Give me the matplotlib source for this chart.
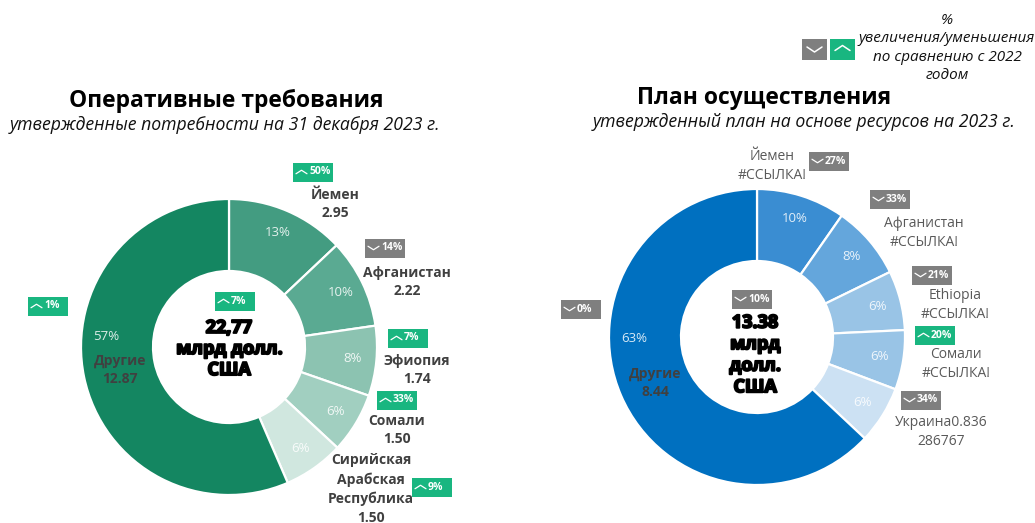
import matplotlib
matplotlib.use("Agg")
import matplotlib.pyplot as plt
import matplotlib.patheffects as pe
from matplotlib.patches import Rectangle

plt.rcParams['font.family'] = ['Open Sans', 'DejaVu Sans']

W, H = 1035, 523

# ---- data ----
ops_names = ["Йемен", "Афганистан", "Эфиопия", "Сомали", "Сирийская\nАрабская\nРеспублика", "Другие"]
ops_values = [2.95, 2.22, 1.74, 1.50, 1.50, 12.87]
ops_labels = ["2.95", "2.22", "1.74", "1.50", "1.50", "12.87"]
ops_pct = ["13%", "10%", "8%", "6%", "6%", "57%"]
ops_colors = ["#439C81", "#5AAA92", "#8CC3B1", "#A1CFC0", "#D0E7DF", "#148661"]
ops_center = "22,77\nмлрд долл.\nСША"

plan_names = ["Йемен", "Афганистан", "Ethiopia", "Сомали", "Украина0.836\n286767", "Другие"]
plan_values = [1.30, 1.08, 0.87, 0.87, 0.84, 8.44]
plan_labels = ["#ССЫЛКА!", "#ССЫЛКА!", "#ССЫЛКА!", "#ССЫЛКА!", "", "8.44"]
plan_pct = ["10%", "8%", "6%", "6%", "6%", "63%"]
plan_colors = ["#3A8DD2", "#64A6DC", "#99C4E6", "#99C4E6", "#CCE1F3", "#0070C0"]
plan_center = "13.38\nмлрд\nдолл.\nСША"

badge_text = ["50%", "14%", "7%", "33%", "9%", "1%", "7%",
              "27%", "33%", "21%", "20%", "34%", "0%", "10%"]
badge_up = [True, False, True, True, True, True, True,
            False, False, False, True, False, False, False]

titles = ["Оперативные требования", "План осуществления"]
subtitles = ["утвержденные потребности на 31 декабря 2023 г.",
             "утвержденный план на основе ресурсов на 2023 г."]
legend_text = "%\nувеличения/уменьшения\nпо сравнению с 2022\nгодом"

# ---- layout (pixels) ----
ops_c = (229, 347)
plan_c = (757, 337)
R = 148
inner = 76
ops_label_xy = [(335, 204), (407, 282), (417, 370), (397, 430), (371, 489), (120, 370)]
plan_label_xy = [(772, 166), (924, 233), (955, 305), (956, 364), (941, 432), (655, 383)]
badge_xy = [(293, 163), (365, 239), (388, 329), (377, 391), (412, 478), (28, 297), (215, 292),
            (809, 152), (870, 190), (912, 266), (915, 326), (901, 391), (561, 300), (732, 290)]
badge_w, badge_h = 40, 19
GREEN, GREY = "#19B680", "#7F7F7F"
DARK = "#404040"

fig = plt.figure(figsize=(W / 100, H / 100), dpi=100, facecolor="white")


def donut(center, values, colors, pct, other_xy):
    ax = fig.add_axes([(center[0] - R) / W, 1 - (center[1] + R) / H, 2 * R / W, 2 * R / H])
    wedges, _, autos = ax.pie(values, colors=colors, startangle=90, counterclock=False,
                              radius=1, autopct="%.0f%%", pctdistance=0.84,
                              wedgeprops=dict(width=1 - inner / R, edgecolor="white", linewidth=1.6))
    for t, s in zip(autos, pct):
        t.set_text(s)
        t.set_color("white")
        t.set_alpha(0.85)
        t.set_fontsize(9.5)
    # the largest slice's percentage sits level with the centre, on its left
    autos[-1].set_position(other_xy)
    ax.set_xlim(-1, 1)
    ax.set_ylim(-1, 1)
    ax.set_aspect("equal")
    ax.axis("off")


donut(ops_c, ops_values, ops_colors, ops_pct, (-0.83, 0.07))
donut(plan_c, plan_values, plan_colors, plan_pct, (-0.83, -0.01))

# overlay in pixel coordinates for annotations
ov = fig.add_axes([0, 0, 1, 1], facecolor="none")
ov.set_xlim(0, W)
ov.set_ylim(H, 0)
ov.axis("off")

ov.text(226, 101, titles[0], ha="center", va="center", fontsize=16.5, fontweight="bold", color="black")
ov.text(225, 125, subtitles[0], ha="center", va="center", fontsize=12.7, style="italic", color="#111111")
ov.text(764, 98, titles[1], ha="center", va="center", fontsize=16.5, fontweight="bold", color="black")
ov.text(804, 122, subtitles[1], ha="center", va="center", fontsize=12.7, style="italic", color="#111111")
ov.text(947, 48, legend_text, ha="center", va="center", fontsize=11, style="italic",
        color="#111111", linespacing=1.28)

for name, val, (x, y) in zip(ops_names, ops_labels, ops_label_xy):
    ov.text(x, y, name + "\n" + val, ha="center", va="center", fontsize=10, fontweight="bold",
            color=DARK, linespacing=1.44)
for name, val, (x, y) in zip(plan_names, plan_labels, plan_label_xy):
    if name == "Другие":
        ov.text(x, y, name + "\n" + val, ha="center", va="center", fontsize=10, fontweight="bold",
                color=DARK, linespacing=1.44)
    else:
        s = name + ("\n" + val if val else "")
        ov.text(x, y, s, ha="center", va="center", fontsize=10, color="#595959", linespacing=1.44)

heavy = [pe.withStroke(linewidth=1.4, foreground="black")]
ov.text(229, 349, ops_center, ha="center", va="center", fontsize=13, fontweight="bold", color="black",
        linespacing=1.22, path_effects=heavy)
ov.text(755, 355, plan_center, ha="center", va="center", fontsize=13, fontweight="bold", color="black",
        linespacing=1.25, path_effects=heavy)


def chevron(cx, cy, up, half=5.5, rise=3.5, lw=0.9):
    d = -rise if up else rise
    ov.plot([cx - half, cx, cx + half], [cy - d / 2, cy + d / 2, cy - d / 2],
            color="white", lw=lw, solid_capstyle="round")


for s, up, (x, y) in zip(badge_text, badge_up, badge_xy):
    ov.add_patch(Rectangle((x, y), badge_w, badge_h, facecolor=GREEN if up else GREY, edgecolor="none"))
    chevron(x + 8.5, y + 9, up)
    ov.text(x + 16, y + 9, s, ha="left", va="center", fontsize=7.5, fontweight="bold", color="white")

# legend swatches
ov.add_patch(Rectangle((802, 39), 25, 21, facecolor=GREY, edgecolor="none"))
chevron(814.5, 49.5, False, half=7.5, rise=5, lw=1.1)
ov.add_patch(Rectangle((830, 39), 25, 21, facecolor=GREEN, edgecolor="none"))
chevron(842.5, 48, True, half=7.5, rise=5, lw=1.1)

fig.savefig("out.png", dpi=100, facecolor="white")
